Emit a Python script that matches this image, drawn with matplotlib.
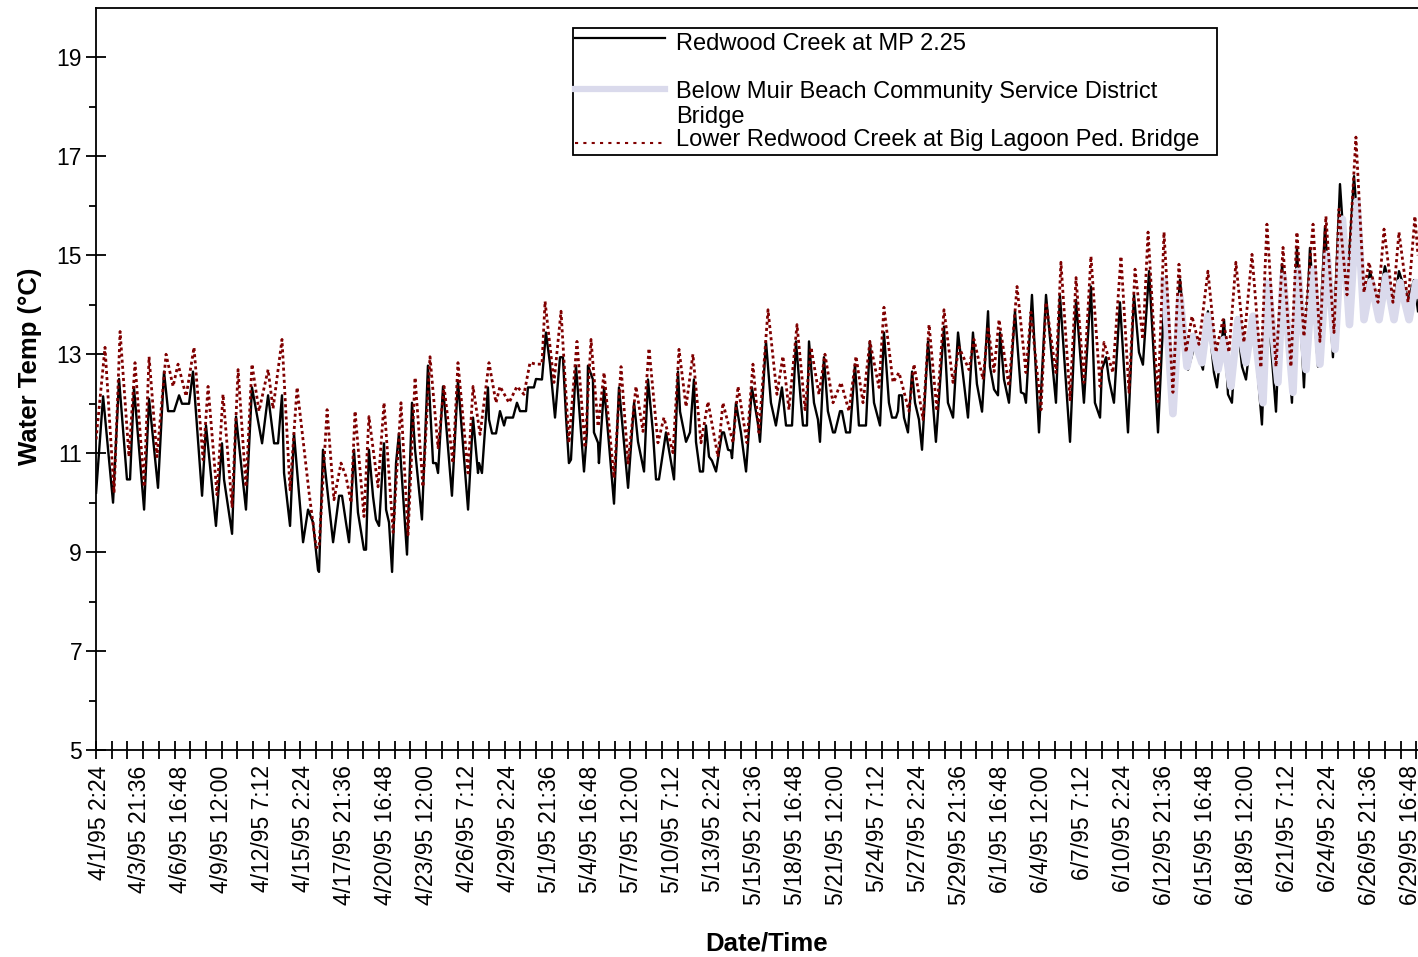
import pandas as pd
import numpy as np
import matplotlib
matplotlib.use("Agg")
import matplotlib.pyplot as plt
from matplotlib.patches import Rectangle

plt.rcParams['font.family'] = ['Liberation Sans', 'DejaVu Sans']

# days since 4/1/95 00:00 and water temperature (C)
mp225_day = [-0.10, 0.38, 1.06, 1.47, 2.01, 2.22, 2.49, 3.18, 3.52, 4.13, 4.54, 4.82, 5.23, 5.57, 5.77, 6.25, 6.52,
             7.14, 7.41, 8.09, 8.50, 8.64, 9.19, 9.46, 10.14, 10.55, 11.24, 11.65, 12.06, 12.33, 12.60, 12.74, 13.15,
             13.42, 14.04, 14.38, 14.72, 15.06, 15.13, 15.40, 16.09, 16.50, 16.70, 16.97, 17.18, 17.52, 17.79, 18.20,
             18.34, 18.54, 18.82, 19.02, 19.23, 19.57, 19.71, 19.91, 20.12, 20.39, 20.59, 21.14, 21.48, 21.69, 22.16,
             22.57, 22.92, 23.12, 23.26, 23.60, 24.21, 24.62, 25.31, 25.65, 25.99, 26.06, 26.26, 26.67, 26.74, 26.95,
             27.22, 27.49, 27.77, 27.90, 28.38, 28.65, 28.86, 29.27, 29.40, 29.81, 29.95, 30.36, 30.63, 30.91, 31.25,
             31.59, 31.79, 32.00, 32.20, 32.34, 32.68, 33.23, 33.43, 33.50, 33.84, 33.91, 34.19, 34.25, 34.60, 34.87,
             35.28, 35.62, 36.24, 36.65, 36.92, 37.33, 37.60, 37.94, 38.15, 38.35, 38.83, 39.38, 39.65, 39.79, 40.20,
             40.47, 40.74, 40.88, 41.15, 41.36, 41.56, 41.77, 41.97, 42.25, 42.66, 42.79, 43.07, 43.27, 43.34, 43.61,
             43.95, 44.30, 44.70, 45.11, 45.25, 45.66, 46.00, 46.34, 46.75, 47.03, 47.44, 47.71, 48.05, 48.19, 48.46,
             48.60, 48.94, 49.21, 49.35, 49.62, 49.89, 50.24, 50.37, 50.72, 50.85, 51.13, 51.40, 51.74, 52.01, 52.49,
             52.76, 53.04, 53.45, 53.72, 54.06, 54.27, 54.54, 54.68, 54.75, 54.95, 55.09, 55.36, 55.64, 55.84, 56.11,
             56.32, 56.73, 57.27, 57.82, 58.09, 58.44, 58.78, 59.46, 59.80, 60.07, 60.42, 60.83, 60.96, 61.24, 61.51,
             61.65, 61.92, 62.26, 62.67, 63.08, 63.29, 63.42, 63.83, 64.31, 64.79, 65.47, 65.74, 66.43, 66.84, 67.38,
             67.86, 68.13, 68.48, 68.61, 68.89, 69.09, 69.43, 69.84, 70.39, 70.80, 71.14, 71.41, 71.83, 72.44, 72.92,
             73.39, 73.94, 74.49, 74.97, 75.51, 75.85, 76.26, 76.47, 76.95, 77.22, 77.49, 77.83, 78.18, 78.45, 78.93,
             79.54, 79.88, 80.50, 80.91, 81.59, 81.93, 82.41, 82.82, 83.37, 83.85, 84.39, 84.87, 85.35, 85.83, 86.51,
             86.92, 87.47, 87.94, 88.56, 88.90, 89.52, 89.93, 90.20]
mp225_temp = [10.2, 12.15, 10.0, 12.5, 10.47, 10.47, 12.33, 9.86, 12.1, 10.3, 12.65, 11.85, 11.85, 12.17, 12.0, 12.0, 12.65,
              10.14, 11.56, 9.53, 11.2, 10.47, 9.37, 11.74, 9.86, 12.33, 11.2, 12.17, 11.2, 11.2, 12.17, 10.6, 9.53,
              11.4, 9.2, 9.86, 9.6, 8.64, 8.6, 11.07, 9.2, 10.14, 10.14, 9.6, 9.2, 11.07, 9.8, 9.05,
              9.05, 11.07, 10.12, 9.66, 9.53, 11.2, 9.86, 9.6, 8.6, 10.8, 11.4, 8.95, 12.02, 11.07, 9.66,
              12.77, 10.8, 10.8, 10.6, 12.35, 10.14, 12.47, 9.86, 11.72, 10.6, 10.8, 10.6, 12.33, 11.68, 11.4,
              11.4, 11.85, 11.56, 11.72, 11.72, 12.02, 11.85, 11.85, 12.33, 12.33, 12.5, 12.49, 13.44, 12.8, 11.72,
              12.94, 12.94, 11.74, 10.8, 10.87, 12.77, 10.63, 11.42, 12.77, 12.49, 11.42, 11.21, 10.8, 12.33, 11.42,
              9.98, 12.33, 10.3, 12.02, 11.23, 10.63, 12.49, 11.42, 10.47, 10.47, 11.42, 10.47, 12.65, 11.84, 11.23,
              11.42, 12.49, 11.23, 10.63, 10.63, 11.56, 10.93, 10.85, 10.63, 11.42, 11.42, 11.07, 11.05, 10.9, 12.02,
              11.42, 10.63, 12.33, 11.6, 11.23, 13.26, 12.02, 11.56, 12.33, 11.56, 11.56, 13.26, 12.02, 11.56, 11.56,
              13.26, 12.02, 11.68, 11.23, 12.94, 11.85, 11.42, 11.42, 11.85, 11.85, 11.42, 11.42, 12.79, 11.56, 11.56,
              13.26, 12.02, 11.56, 13.44, 12.02, 11.72, 11.72, 11.85, 12.17, 12.17, 11.72, 11.42, 12.65, 12.02, 11.68,
              11.07, 13.26, 11.23, 13.56, 12.02, 11.72, 13.44, 11.72, 13.44, 12.4, 11.84, 13.87, 12.75, 12.29, 12.17,
              13.44, 12.49, 12.02, 13.87, 12.23, 12.2, 12.02, 14.2, 11.42, 14.2, 12.02, 14.2, 11.23, 14.1, 12.02,
              14.37, 12.02, 11.72, 12.69, 12.94, 12.49, 12.02, 14.05, 11.42, 14.2, 13.04, 12.79, 14.68, 11.42, 14.5,
              12.3, 14.51, 12.69, 13.2, 12.69, 13.87, 12.63, 12.33, 13.7, 12.19, 12.02, 13.74, 12.75, 12.49, 13.77,
              11.58, 14.25, 11.84, 14.82, 12.02, 15.15, 12.33, 15.15, 12.75, 15.59, 12.94, 16.44, 14.3, 16.6, 13.85,
              14.68, 14.0, 14.78, 14.0, 14.68, 14.1, 14.5, 13.87]

muir_day = [72.85, 73.46, 73.94, 74.42, 74.83, 75.44, 75.85, 76.54, 76.95, 77.42, 77.90, 78.45, 78.93, 79.61, 79.95,
            80.63, 80.98, 81.66, 82.00, 82.55, 83.03, 83.50, 83.98, 84.53, 85.04, 85.52, 86.03, 86.51, 86.99, 87.54,
            88.01, 88.56, 88.97, 89.59, 90.06, 90.20]
muir_temp = [14.5, 11.8, 14.17, 12.75, 13.36, 12.83, 13.77, 12.69, 13.3, 12.35, 13.7, 12.83, 13.77, 12.02, 14.45,
             12.43, 14.58, 12.23, 14.68, 12.69, 14.72, 12.8, 15.02, 13.1, 15.73, 13.6, 16.09, 13.7, 14.47, 13.7,
             14.58, 13.7, 14.45, 13.7, 14.45, 14.2]

lagoon_day = [-0.10, 0.51, 1.13, 1.54, 2.15, 2.56, 3.18, 3.52, 4.06, 4.68, 5.16, 5.50, 6.05, 6.59, 7.21, 7.55, 8.16,
              8.57, 9.19, 9.60, 10.14, 10.55, 11.03, 11.65, 11.99, 12.60, 13.15, 13.63, 14.45, 14.93, 15.13, 15.68,
              16.15, 16.63, 16.97, 17.32, 17.59, 18.20, 18.54, 19.16, 19.57, 20.19, 20.73, 21.21, 21.69, 22.23, 22.71,
              23.26, 23.67, 24.28, 24.62, 25.31, 25.65, 26.13, 26.74, 27.22, 27.49, 28.11, 28.65, 29.13, 29.54, 29.95,
              30.36, 30.57, 31.18, 31.66, 32.20, 32.75, 33.30, 33.71, 34.19, 34.60, 35.28, 35.76, 36.24, 36.78, 37.26,
              37.67, 38.28, 38.69, 39.31, 39.72, 40.20, 40.67, 41.22, 41.70, 42.38, 42.72, 43.41, 43.75, 44.36, 44.77,
              45.18, 45.80, 46.41, 46.82, 47.23, 47.78, 48.33, 48.74, 49.28, 49.69, 50.24, 50.79, 51.33, 51.81, 52.29,
              52.76, 53.38, 53.72, 54.34, 54.75, 55.43, 55.77, 56.39, 56.80, 57.34, 57.82, 58.44, 58.85, 59.53, 59.87,
              60.49, 60.83, 61.24, 61.58, 62.26, 62.81, 63.42, 63.76, 64.45, 64.79, 65.47, 65.81, 66.43, 66.84, 67.38,
              67.86, 68.48, 68.75, 69.36, 69.91, 70.46, 70.87, 71.41, 71.76, 72.44, 72.85, 73.46, 73.87, 74.35, 74.76,
              75.24, 75.85, 76.40, 76.88, 77.29, 77.76, 78.31, 78.86, 79.47, 79.88, 80.50, 80.98, 81.52, 81.93, 82.41,
              83.03, 83.50, 83.91, 84.46, 84.80, 85.35, 85.96, 86.51, 86.85, 87.47, 87.88, 88.49, 88.90, 89.52, 89.99,
              90.20]
lagoon_temp = [11.28, 13.14, 10.2, 13.46, 10.93, 12.83, 10.32, 12.95, 10.93, 13.0, 12.35, 12.8, 12.15, 13.14, 10.87, 12.35,
               10.16, 12.19, 9.92, 12.69, 10.32, 12.8, 11.85, 12.69, 11.9, 13.3, 10.26, 12.33, 10.2, 9.1, 9.09, 11.88,
               10.06, 10.8, 10.53, 10.0, 11.85, 9.72, 11.74, 10.32, 12.02, 9.4, 12.02, 9.35, 12.53, 10.32, 12.95,
               11.11, 12.35, 10.8, 12.83, 10.6, 12.35, 11.38, 12.83, 12.02, 12.35, 12.02, 12.35, 12.19, 12.83, 12.8,
               12.8, 14.07, 12.43, 13.87, 11.21, 13.26, 11.11, 13.3, 11.54, 12.63, 10.5, 12.75, 10.8, 12.35, 11.44,
               13.12, 11.21, 11.72, 11.01, 13.1, 11.94, 13.0, 11.21, 12.04, 10.93, 12.02, 11.21, 12.35, 11.21, 12.8,
               11.42, 13.9, 12.19, 12.96, 11.88, 13.6, 11.88, 13.14, 12.19, 13.0, 12.02, 12.43, 11.85, 12.96, 12.02,
               13.26, 12.33, 13.95, 12.43, 12.63, 11.85, 12.8, 11.68, 13.6, 11.85, 13.9, 12.43, 13.14, 12.69, 13.3,
               12.49, 13.56, 12.65, 13.7, 12.35, 14.37, 12.63, 13.85, 11.88, 14.05, 12.63, 14.86, 12.08, 14.55, 12.43,
               14.98, 12.35, 13.24, 12.63, 14.98, 12.23, 14.72, 13.3, 15.47, 12.04, 15.47, 12.23, 14.82, 13.04, 13.77,
               13.2, 14.68, 13.04, 13.7, 13.04, 14.86, 13.24, 15.02, 12.73, 15.63, 12.75, 15.16, 12.75, 15.47, 13.36,
               15.63, 13.26, 15.79, 13.44, 15.93, 14.2, 17.39, 14.25, 14.86, 14.05, 15.53, 14.05, 15.47, 14.05, 15.79,
               15.0]

tick_labels = ['4/1/95 2:24', '4/3/95 21:36', '4/6/95 16:48', '4/9/95 12:00', '4/12/95 7:12', '4/15/95 2:24',
               '4/17/95 21:36', '4/20/95 16:48', '4/23/95 12:00', '4/26/95 7:12', '4/29/95 2:24', '5/1/95 21:36',
               '5/4/95 16:48', '5/7/95 12:00', '5/10/95 7:12', '5/13/95 2:24', '5/15/95 21:36', '5/18/95 16:48',
               '5/21/95 12:00', '5/24/95 7:12', '5/27/95 2:24', '5/29/95 21:36', '6/1/95 16:48', '6/4/95 12:00',
               '6/7/95 7:12', '6/10/95 2:24', '6/12/95 21:36', '6/15/95 16:48', '6/18/95 12:00', '6/21/95 7:12',
               '6/24/95 2:24', '6/26/95 21:36', '6/29/95 16:48']

start = pd.Timestamp('1995-04-01')
tick_pos = (pd.to_datetime(tick_labels, format='%m/%d/%y %H:%M') - start) / pd.Timedelta(days=1)

fig = plt.figure(figsize=(14.18, 9.57), dpi=100)
ax = fig.add_axes([96 / 1418, 1 - 750 / 957, 1322 / 1418, 742 / 957])

ax.plot(mp225_day, mp225_temp, color='black', lw=1.7, zorder=2)
ax.plot(muir_day, muir_temp, color='#DADAEC', lw=5.5, zorder=3)
ax.plot(lagoon_day, lagoon_temp, color='#800000', lw=2.0, ls=(0, (1.1, 1.1)), zorder=4)

ax.set_xlim(-0.105, 90.2)
ax.set_ylim(5, 20)

ax.set_xticks(tick_pos)
ax.set_xticklabels(tick_labels, rotation=90, fontsize=16.5)
ax.set_xticks(np.arange(-0.105, 90.2, 1.0738), minor=True)
ax.tick_params(axis='x', which='major', length=0, pad=11)
ax.tick_params(axis='x', which='minor', direction='inout', length=13, width=1.3)

ax.set_yticks(np.arange(5, 20, 2))
ax.set_yticks(np.arange(6, 20, 2), minor=True)
ax.tick_params(axis='y', which='major', direction='inout', length=14, width=1.3, labelsize=16.5, pad=3)
ax.tick_params(axis='y', which='minor', direction='out', length=5, width=1.3)

for side in ['left', 'bottom', 'top']:
    ax.spines[side].set_linewidth(1.3)
ax.spines['right'].set_visible(False)

ax.set_ylabel('Water Temp (°C)', fontsize=18.5, fontweight='bold')
ax.yaxis.set_label_coords(-0.041, 0.517)
ax.set_xlabel('Date/Time', fontsize=18.5, fontweight='bold')
ax.xaxis.set_label_coords(0.507, -0.244)

# legend box drawn by hand to keep the wrapped second entry
ax.add_patch(Rectangle((0.3608, 0.802), 0.4872, 0.171, transform=ax.transAxes,
                       fill=True, facecolor='white', edgecolor='black', lw=1.3, zorder=5))
ax.plot([0.3623, 0.4304], [0.9596, 0.9596], transform=ax.transAxes, color='black', lw=1.6, zorder=6)
ax.plot([0.3623, 0.4304], [0.8908, 0.8908], transform=ax.transAxes, color='#DADAEC', lw=4.5, zorder=6)
ax.plot([0.3623, 0.4304], [0.818, 0.818], transform=ax.transAxes, color='#800000', lw=1.5,
        ls=(0, (1.5, 2.5)), zorder=6)
legend_font = dict(transform=ax.transAxes, fontsize=17, va='center', zorder=7)
ax.text(0.4387, 0.9515, 'Redwood Creek at MP 2.25', **legend_font)
ax.text(0.4387, 0.8868, 'Below Muir Beach Community Service District', **legend_font)
ax.text(0.4387, 0.853, 'Bridge', **legend_font)
ax.text(0.4387, 0.822, 'Lower Redwood Creek at Big Lagoon Ped. Bridge', **legend_font)

fig.savefig('out.png', dpi=100)
